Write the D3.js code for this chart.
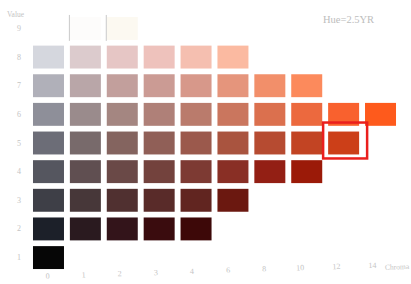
<!DOCTYPE html>
<html>
<head>
<meta charset="utf-8">
<script src="https://cdn.jsdelivr.net/npm/d3@7"></script>
<style>
  html, body { margin: 0; padding: 0; background: #fff; }
  svg { display: block; }
</style>
</head>
<body>
<svg id="chart"></svg>
<script>
// munsell sheet, hue 2.5YR
const values = [9, 8, 7, 6, 5, 4, 3, 2, 1]
const chromas = [0, 1, 2, 3, 4, 6, 8, 10, 12, 14]
const hueLabel = "Hue=2.5YR"

// chip colours per value row, index = position in chromas
const row9 = ["#ffffff", "#fdfcfb", "#fcf9f1"]
const row8 = ["#d5d7de", "#dccbcd", "#e6c6c5", "#eec2bc", "#f5bfb0", "#fbbaa1"]
const row7 = ["#b0b0b9", "#b9a6a8", "#c29f9c", "#cb9b94", "#d7988a", "#e5957c", "#f28f6a", "#fc8a5c"]
const row6 = ["#8e8f99", "#9a8b8c", "#a48681", "#af8078", "#ba7b6c", "#ca765e", "#db704e", "#ec693e", "#f9612e", "#fe5a1c"]
const row5 = ["#6c6d77", "#786a6b", "#84645f", "#905f57", "#9b594c", "#a9543f", "#b64b31", "#c24423", "#cc3f18"]
const row4 = ["#55565f", "#604f51", "#6a4947", "#73423d", "#7d3a33", "#892f25", "#931f14", "#9b1a08"]
const row3 = ["#3e3f47", "#473739", "#503030", "#592b29", "#612520", "#6b1810"]
const row2 = ["#1c2029", "#2a1a1f", "#33141a", "#3a0c0e", "#3d0808"]
const row1 = ["#060606"]
const rows = [row9, row8, row7, row6, row5, row4, row3, row2, row1]

const highlight = { value: 5, chroma: 12 }

const width = 411
const height = 284
const serif = "'Liberation Serif', 'DejaVu Serif', serif"
const labelColor = "#c4c4c4"

const svg = d3.select("#chart").attr("width", width).attr("height", height)

// chip grid
const x = d3.scaleBand().domain(chromas).range([29.3, 399.7]).paddingInner(0.16).paddingOuter(0.1)
const y = d3.scaleBand().domain(values).range([14.1, 271.9]).paddingInner(0.2).paddingOuter(0.1)

const chips = []
rows.forEach((r, i) => {
  r.forEach((c, j) => chips.push({ value: values[i], chroma: chromas[j], color: c }))
})

svg.append("g")
  .selectAll("rect")
  .data(chips)
  .enter()
  .append("rect")
  .attr("x", (d) => x(d.chroma))
  .attr("y", (d) => y(d.value))
  .attr("width", x.bandwidth())
  .attr("height", y.bandwidth())
  .attr("fill", (d) => d.color)

// faint paper edges on the value 9 chips
const edges = svg.append("g").attr("stroke", "#c9c9c9").attr("stroke-width", 1)
;[1, 2].forEach((c) => {
  edges.append("line")
    .attr("x1", x(c) - 0.5).attr("x2", x(c) - 0.5)
    .attr("y1", y(9) - 2).attr("y2", y(9) + y.bandwidth() + 1)
})

// highlight box
svg.append("rect")
  .attr("x", x(highlight.chroma) - 5)
  .attr("y", y(highlight.value) - 9)
  .attr("width", x.bandwidth() + 13)
  .attr("height", y.bandwidth() + 13)
  .attr("fill", "none")
  .attr("stroke", "#ea1f1d")
  .attr("stroke-width", 2.5)

// value axis
const yAxis = d3.axisLeft(y).tickSize(0).tickPadding(0)
const yg = svg.append("g").attr("transform", "translate(21,0)").call(yAxis)
  .attr("font-family", serif).attr("font-size", 8)
yg.select(".domain").remove()
yg.selectAll("text").attr("fill", labelColor)

svg.append("text")
  .attr("x", 7).attr("y", 17)
  .attr("fill", labelColor)
  .attr("font-family", serif)
  .attr("font-size", 7.5)
  .text("Value")

// chroma axis (photo is slightly tilted here)
const xl = d3.scalePoint().domain(chromas).range([47, 372])
const xAxis = d3.axisBottom(xl).tickSize(0).tickPadding(0)
const xg = svg.append("g").attr("transform", "translate(0,273) rotate(-1.9,47,0)").call(xAxis)
  .attr("font-family", serif).attr("font-size", 8)
xg.select(".domain").remove()
xg.selectAll("text").attr("fill", labelColor)

svg.append("text")
  .attr("transform", "translate(0,273) rotate(-1.9,47,0)")
  .attr("x", xl(14) + 13).attr("y", 8)
  .attr("fill", labelColor)
  .attr("font-family", serif)
  .attr("font-size", 7.5)
  .text("Chroma")

svg.append("text")
  .attr("x", 323).attr("y", 23)
  .attr("fill", "#bdbdbd")
  .attr("font-family", serif)
  .attr("font-size", 10.5)
  .text(hueLabel)
</script>
</body>
</html>
